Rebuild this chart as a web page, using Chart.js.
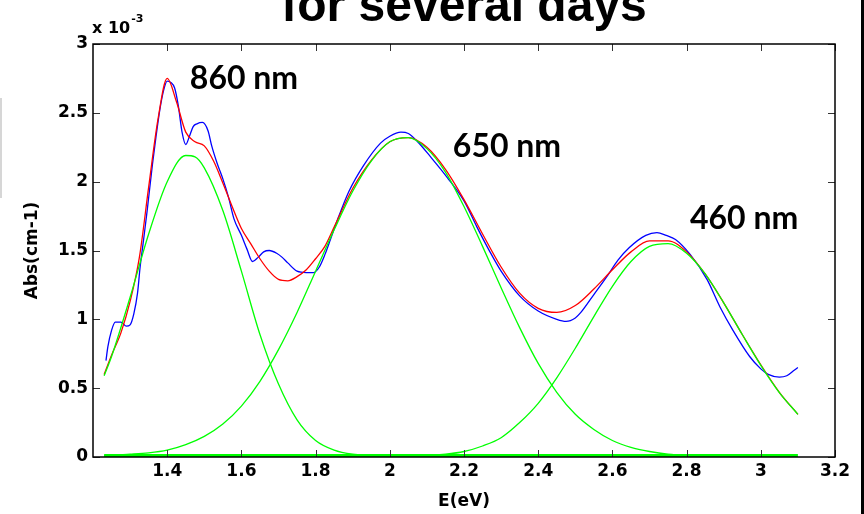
<!DOCTYPE html>
<html>
<head>
<meta charset="utf-8">
<script src="https://cdn.jsdelivr.net/npm/chart.js@4.4.1/dist/chart.umd.min.js"></script>
<style>
  html, body { margin: 0; padding: 0; background: #fff; }
  canvas { display: block; }
</style>
</head>
<body>
<canvas id="canvas" width="864" height="514"></canvas>
<script>
// measured absorbance (units of 1e-3 cm-1) against photon energy in eV
var measE = [1.235, 1.24, 1.25, 1.26, 1.275, 1.29, 1.30, 1.31, 1.32, 1.327, 1.335, 1.346, 1.36, 1.37, 1.38, 1.39, 1.40,
  1.41, 1.42, 1.43, 1.44, 1.45, 1.46, 1.47, 1.48, 1.495, 1.51, 1.52, 1.535, 1.55, 1.565, 1.58, 1.60, 1.615, 1.63,
  1.645, 1.66, 1.675, 1.695, 1.71, 1.725, 1.75, 1.775, 1.795, 1.81, 1.825, 1.84, 1.86, 1.89, 1.93, 1.975, 2.00,
  2.03, 2.05, 2.075, 2.11, 2.155, 2.20, 2.235, 2.27, 2.30, 2.35, 2.40, 2.45, 2.475, 2.50, 2.515, 2.55, 2.585, 2.615,
  2.645, 2.69, 2.72, 2.745, 2.77, 2.81, 2.855, 2.89, 2.925, 2.97, 3.00, 3.02, 3.05, 3.07, 3.09, 3.10];
var measAbs = [0.70, 0.80, 0.92, 0.98, 0.98, 0.95, 0.96, 1.04, 1.19, 1.38, 1.55, 1.79, 2.12, 2.33, 2.52, 2.66, 2.73,
  2.72, 2.68, 2.55, 2.36, 2.27, 2.33, 2.40, 2.42, 2.43, 2.37, 2.26, 2.13, 2.02, 1.89, 1.73, 1.61, 1.51, 1.42,
  1.45, 1.49, 1.50, 1.48, 1.45, 1.41, 1.35, 1.34, 1.34, 1.38, 1.47, 1.58, 1.73, 1.93, 2.12, 2.28, 2.33,
  2.36, 2.35, 2.29, 2.18, 2.03, 1.86, 1.67, 1.49, 1.35, 1.17, 1.06, 1.00, 0.985, 1.01, 1.05, 1.18, 1.31, 1.43,
  1.52, 1.61, 1.63, 1.61, 1.58, 1.47, 1.29, 1.09, 0.92, 0.73, 0.64, 0.60, 0.58, 0.59, 0.63, 0.65];

// total fit
var fitE = [1.23, 1.25, 1.275, 1.30, 1.325, 1.35, 1.375, 1.40, 1.425, 1.45, 1.475, 1.50, 1.525, 1.55, 1.575, 1.60,
  1.625, 1.65, 1.675, 1.70, 1.725, 1.75, 1.775, 1.80, 1.825, 1.85, 1.90, 1.95, 2.00, 2.05, 2.10, 2.15, 2.20, 2.25,
  2.30, 2.35, 2.40, 2.45, 2.50, 2.55, 2.60, 2.65, 2.70, 2.75, 2.80, 2.85, 2.90, 2.95, 3.00, 3.05, 3.10];
var fitAbs = [0.60, 0.74, 0.90, 1.13, 1.45, 1.96, 2.45, 2.75, 2.58, 2.36, 2.29, 2.26, 2.15, 1.99, 1.82, 1.66,
  1.55, 1.44, 1.35, 1.29, 1.28, 1.31, 1.36, 1.44, 1.53, 1.67, 1.95, 2.155, 2.29, 2.32, 2.25, 2.09, 1.87, 1.62,
  1.38, 1.19, 1.08, 1.05, 1.10, 1.22, 1.36, 1.49, 1.57, 1.57, 1.49, 1.33, 1.12, 0.89, 0.67, 0.47, 0.31];

// fitted bands: 860 nm, 650 nm, 460 nm
var band1E = [1.23, 1.25, 1.30, 1.35, 1.40, 1.45, 1.475, 1.50, 1.55, 1.60, 1.65, 1.70, 1.75, 1.80, 1.85, 1.90, 1.95, 2.00, 2.10];
var band1Abs = [0.59, 0.73, 1.16, 1.62, 2.00, 2.19, 2.18, 2.10, 1.79, 1.35, 0.89, 0.53, 0.27, 0.12, 0.05, 0.02, 0.01, 0, 0];
var band2E = [1.23, 1.30, 1.35, 1.40, 1.45, 1.50, 1.55, 1.60, 1.65, 1.70, 1.75, 1.80, 1.85, 1.90, 1.95, 2.00, 2.05,
  2.10, 2.15, 2.20, 2.25, 2.30, 2.35, 2.40, 2.45, 2.50, 2.55, 2.60, 2.65, 2.70, 2.75, 2.80, 2.90, 3.10];
var band2Abs = [0.01, 0.02, 0.03, 0.05, 0.09, 0.15, 0.24, 0.37, 0.55, 0.78, 1.05, 1.35, 1.65, 1.93, 2.15, 2.29, 2.32,
  2.24, 2.07, 1.82, 1.53, 1.23, 0.94, 0.68, 0.47, 0.31, 0.20, 0.12, 0.07, 0.04, 0.02, 0.01, 0, 0];
var band3E = [1.95, 2.00, 2.05, 2.10, 2.15, 2.20, 2.25, 2.30, 2.35, 2.40, 2.45, 2.50, 2.55, 2.60, 2.65, 2.70, 2.75,
  2.80, 2.85, 2.90, 2.95, 3.00, 3.05, 3.10];
var band3Abs = [0, 0, 0.01, 0.01, 0.02, 0.04, 0.08, 0.14, 0.25, 0.39, 0.575, 0.79, 1.02, 1.24, 1.42, 1.53, 1.55,
  1.48, 1.33, 1.12, 0.89, 0.666, 0.468, 0.31];
var baseE = [1.23, 3.10];
var baseAbs = [0, 0];

var xTicks = [1.4, 1.6, 1.8, 2, 2.2, 2.4, 2.6, 2.8, 3, 3.2];
var yTicks = [0, 0.5, 1, 1.5, 2, 2.5, 3];

var peakLabels = ['860 nm', '650 nm', '460 nm'];
var peakLabelE = [1.461, 2.170, 2.809];
var peakLabelAbs = [2.67, 2.18, 1.656];

function pairs(xs, ys) {
  return xs.map(function (v, i) { return { x: v, y: ys[i] }; });
}

var tickFont = { family: 'DejaVu Sans', weight: 'bold', size: 17 };

var overlay = {
  id: 'overlay',
  afterDraw: function (chart) {
    var c = chart.ctx, a = chart.chartArea, sx = chart.scales.x, sy = chart.scales.y;
    c.save();

    // inward ticks on all four sides
    c.strokeStyle = '#333';
    c.lineWidth = 1;
    c.beginPath();
    xTicks.forEach(function (v) {
      var px = Math.round(sx.getPixelForValue(v)) + 0.5;
      c.moveTo(px, a.bottom); c.lineTo(px, a.bottom - 7);
      c.moveTo(px, a.top); c.lineTo(px, a.top + 7);
    });
    yTicks.forEach(function (v) {
      var py = Math.round(sy.getPixelForValue(v)) + 0.5;
      c.moveTo(a.left, py); c.lineTo(a.left + 7, py);
      c.moveTo(a.right, py); c.lineTo(a.right - 7, py);
    });
    c.stroke();

    // frame
    c.strokeStyle = '#000';
    c.lineWidth = 1.5;
    c.strokeRect(a.left, a.top, a.right - a.left, a.bottom - a.top);

    // exponent note above the y axis
    c.fillStyle = '#000';
    c.textBaseline = 'alphabetic';
    c.textAlign = 'left';
    c.font = 'bold 16px "DejaVu Sans"';
    c.fillText('x 10', a.left - 1, a.top - 11);
    var w = c.measureText('x 10').width;
    c.font = 'bold 11px "DejaVu Sans"';
    c.fillText('-3', a.left + w, a.top - 22);

    // title
    c.font = 'bold 48px "Liberation Sans"';
    c.textAlign = 'center';
    c.fillText('for several days', 464, 21);

    // band labels
    c.font = 'bold 32px Lato';
    c.textAlign = 'left';
    peakLabels.forEach(function (t, i) {
      c.fillText(t, sx.getPixelForValue(peakLabelE[i]), sy.getPixelForValue(peakLabelAbs[i]));
    });

    // page edges
    c.fillStyle = '#000';
    c.fillRect(861, 0, 3, chart.height);
    c.fillStyle = '#d6d6d6';
    c.fillRect(0, 98, 2, 100);
    c.restore();
  }
};

var ctx = document.getElementById('canvas').getContext('2d');
var chart = new Chart(ctx, {
  type: 'line',
  data: {
    datasets: [
      { label: 'baseline', data: pairs(baseE, baseAbs), borderColor: '#00ff00', borderWidth: 6, order: 0 },
      { label: '860 nm', data: pairs(band1E, band1Abs), borderColor: '#00ff00', borderWidth: 1.3, order: 1 },
      { label: '650 nm', data: pairs(band2E, band2Abs), borderColor: '#00ff00', borderWidth: 1.3, order: 1 },
      { label: '460 nm', data: pairs(band3E, band3Abs), borderColor: '#00ff00', borderWidth: 1.3, order: 1 },
      { label: 'fit', data: pairs(fitE, fitAbs), borderColor: '#ff0000', borderWidth: 1.3, order: 2 },
      { label: 'measured', data: pairs(measE, measAbs), borderColor: '#0000ff', borderWidth: 1.3, order: 3 }
    ]
  },
  options: {
    responsive: false,
    animation: false,
    layout: { padding: { left: 0, right: 29, top: 44, bottom: 0 } },
    elements: {
      point: { radius: 0 },
      line: { cubicInterpolationMode: 'monotone', backgroundColor: 'transparent', fill: false }
    },
    plugins: { legend: { display: false }, tooltip: { enabled: false } },
    scales: {
      x: {
        type: 'linear',
        min: 1.2,
        max: 3.2,
        afterBuildTicks: function (s) { s.ticks = xTicks.map(function (v) { return { value: v }; }); },
        afterFit: function (s) { s.height = 57; },
        grid: { display: false, drawTicks: false },
        border: { display: false },
        ticks: { font: tickFont, color: '#000', padding: 4, autoSkip: false, maxRotation: 0,
          callback: function (v) { return String(v); } },
        title: { display: true, text: 'E(eV)', color: '#000', font: tickFont, padding: { top: 0, bottom: 2 } }
      },
      y: {
        type: 'linear',
        min: 0,
        max: 3,
        afterBuildTicks: function (s) { s.ticks = yTicks.map(function (v) { return { value: v }; }); },
        afterFit: function (s) { s.width = 93; },
        grid: { display: false, drawTicks: false },
        border: { display: false },
        ticks: { font: tickFont, color: '#000', padding: 5,
          callback: function (v) { return String(v); } },
        title: { display: true, text: 'Abs(cm-1)', color: '#000', font: { family: 'DejaVu Sans', weight: 'bold', size: 17 },
          padding: { top: 22, bottom: 0 } }
      }
    }
  },
  plugins: [overlay]
});
</script>
</body>
</html>
